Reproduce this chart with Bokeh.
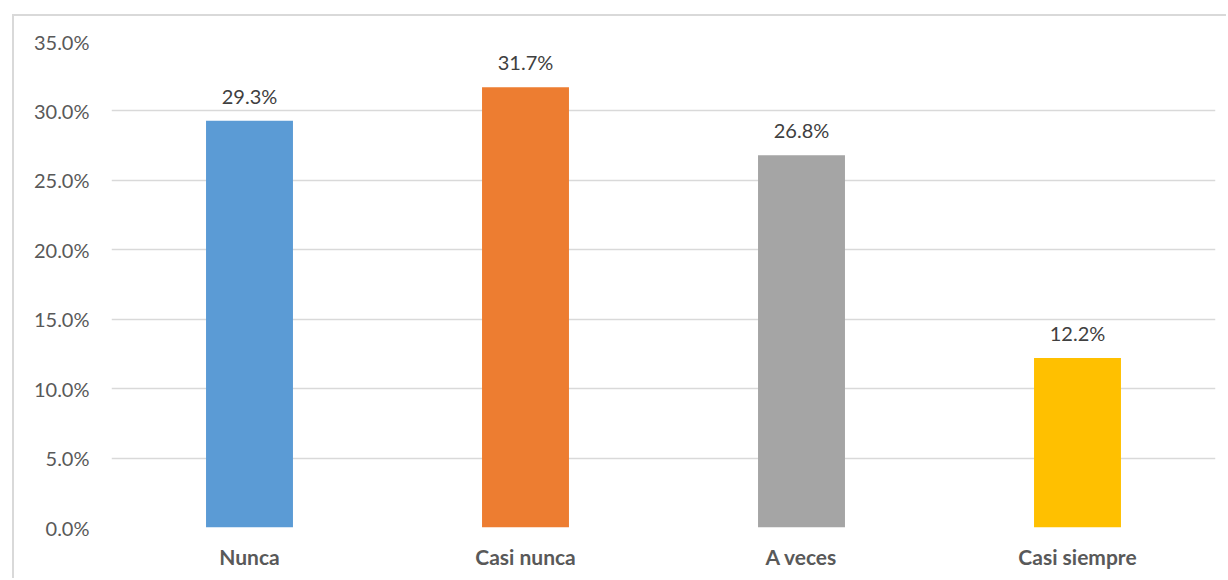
from bokeh.plotting import figure
from bokeh.models import ColumnDataSource, NumeralTickFormatter, FixedTicker, Range1d, LabelSet
from bokeh.core.properties import value
from bokeh.embed import file_html
from bokeh.resources import INLINE

categories = ["Nunca", "Casi nunca", "A veces", "Casi siempre"]
shares = [29.3, 31.7, 26.8, 12.2]
colors = ["#5B9BD5", "#ED7D31", "#A5A5A5", "#FFC000"]
y_ticks = [0, 5, 10, 15, 20, 25, 30, 35]

FONT = "Lato"

src = ColumnDataSource(dict(
    cat=categories,
    val=[v / 100 for v in shares],
    color=colors,
    label=[f"{v:.1f}%" for v in shares],
))

p = figure(
    x_range=categories,
    width=1214, height=564,
    output_backend="svg", toolbar_location=None,
    min_border_left=97, min_border_right=13,
    min_border_top=25, min_border_bottom=53,
)
# light chart-area border on the top and left edges
p.styles = {
    "margin-left": "12px",
    "margin-top": "14px",
    "border-left": "2px solid #D9D9D9",
    "border-top": "2px solid #D9D9D9",
}
p.y_range = Range1d(0, 0.35)
p.x_range.range_padding = 0.0

p.vbar(x="cat", top="val", width=0.315, color="color", line_color=None, source=src)

p.add_layout(LabelSet(
    x="cat", y="val", text="label", source=src,
    text_align="center", text_baseline="middle", y_offset=25,
    text_font=value(FONT), text_font_size=value("20px"), text_color=value("#404040"),
))

p.yaxis.ticker = FixedTicker(ticks=[t / 100 for t in y_ticks])
p.yaxis.formatter = NumeralTickFormatter(format="0.0%")
for ax in (p.xaxis, p.yaxis):
    ax.axis_line_color = None
    ax.major_tick_line_color = None
    ax.minor_tick_line_color = None
    ax.major_label_text_font = FONT
    ax.major_label_text_color = "#595959"
p.yaxis.major_label_text_font_size = "20px"
p.xaxis.major_label_text_font_size = "21px"
p.yaxis.major_label_standoff = 16
p.xaxis.major_label_standoff = 10
p.xaxis.major_label_text_font_style = "bold"

p.xgrid.grid_line_color = None
p.ygrid.grid_line_color = "#D9D9D9"
p.ygrid.grid_line_width = 1.5
p.outline_line_color = None
p.background_fill_color = "white"
p.border_fill_color = "white"

open("out.html", "w").write(file_html(p, INLINE))
